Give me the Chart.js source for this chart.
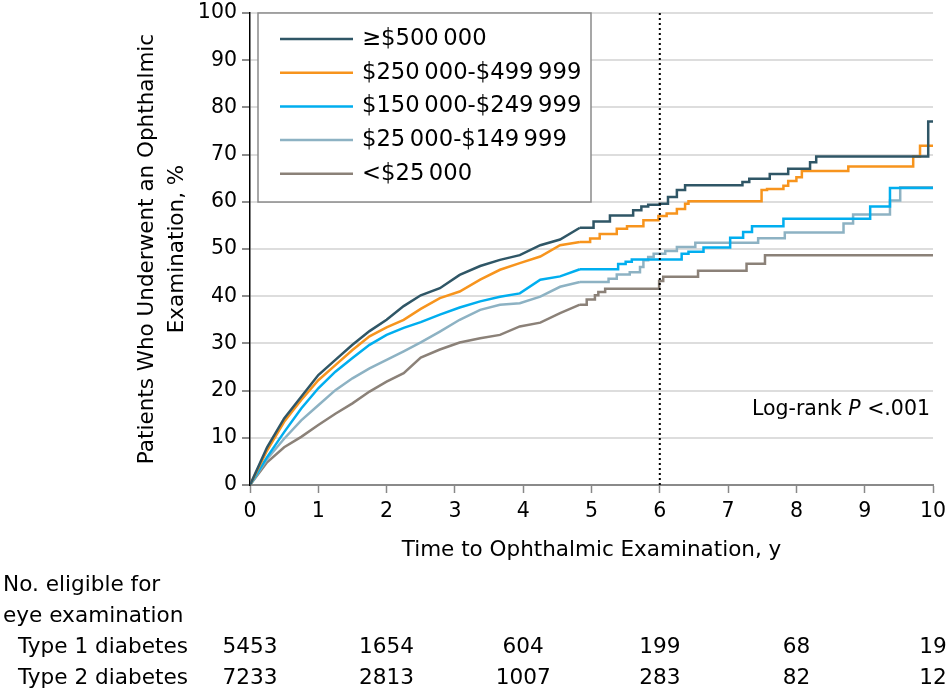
<!DOCTYPE html>
<html><head><meta charset="utf-8">
<script src="https://cdn.jsdelivr.net/npm/chart.js@4"></script>
<style>html,body{margin:0;padding:0;background:#fff;overflow:hidden}</style>
</head><body>
<canvas id="c" width="948" height="691"></canvas>
<script>
// ---------- DATA ----------
const groupLabels = ["≥$500\u2009000", "$250\u2009000-$499\u2009999", "$150\u2009000-$249\u2009999", "$25\u2009000-$149\u2009999", "<$25\u2009000"];

// dense early part of the curves (years, %)
const earlyTimes = [0, 0.25, 0.5, 0.75, 1, 1.25, 1.5, 1.75, 2, 2.25, 2.5, 2.78, 3.07, 3.37, 3.66, 3.95, 4.25, 4.54, 4.83];
const earlyG500 = [0, 8.0, 14.1, 18.7, 23.3, 26.5, 29.7, 32.6, 35.0, 37.9, 40.2, 41.7, 44.5, 46.4, 47.7, 48.7, 50.8, 52.0, 54.5];
const earlyG250 = [0, 7.3, 13.4, 18.0, 22.2, 25.4, 28.6, 31.5, 33.4, 35.0, 37.3, 39.6, 41.0, 43.5, 45.6, 47.0, 48.4, 50.8, 51.5];
const earlyG150 = [0, 5.9, 11.2, 16.2, 20.5, 24.0, 26.9, 29.7, 31.8, 33.3, 34.5, 36.1, 37.6, 38.9, 39.9, 40.6, 43.5, 44.2, 45.7];
const earlyG25  = [0, 5.5, 9.8, 13.7, 16.9, 20.1, 22.6, 24.7, 26.5, 28.3, 30.2, 32.5, 35.0, 37.1, 38.2, 38.5, 39.9, 42.0, 43.0];
const earlyLt25 = [0, 4.8, 8.0, 10.2, 12.7, 15.1, 17.3, 19.8, 21.9, 23.7, 27.0, 28.7, 30.2, 31.1, 31.8, 33.6, 34.4, 36.4, 38.2];

// stepped late part (time of step, value after step)
const lateTimesG500 = [5.03, 5.27, 5.61, 5.73, 5.83, 6.0, 6.12, 6.25, 6.37, 7.21, 7.31, 7.61, 7.88, 8.2, 8.29, 9.93, 10];
const lateValsG500  = [55.8, 57.1, 58.2, 59.0, 59.4, 59.6, 61.0, 62.5, 63.5, 64.2, 64.9, 65.9, 67.0, 68.4, 69.6, 77.0, 77.0];
const lateTimesG250 = [4.98, 5.12, 5.37, 5.52, 5.76, 5.98, 6.10, 6.25, 6.37, 6.42, 7.49, 7.57, 7.81, 7.88, 8.0, 8.08, 8.76, 9.71, 9.81, 10];
const lateValsG250  = [52.2, 53.2, 54.3, 54.8, 56.1, 57.0, 57.5, 58.5, 59.6, 60.1, 62.5, 62.7, 63.4, 64.4, 65.2, 66.5, 67.5, 69.6, 71.9, 71.9];
const lateTimesG150 = [5.39, 5.5, 5.59, 6.32, 6.42, 6.64, 7.03, 7.22, 7.35, 7.81, 9.08, 9.37, 10];
const lateValsG150  = [46.8, 47.3, 47.8, 49.0, 49.4, 50.3, 52.4, 53.6, 54.8, 56.4, 59.0, 62.9, 62.9];
const lateTimesG25  = [5.25, 5.37, 5.56, 5.71, 5.76, 5.83, 5.91, 6.08, 6.25, 6.52, 7.44, 7.83, 8.69, 8.83, 9.37, 9.52, 10];
const lateValsG25   = [43.7, 44.6, 45.1, 46.2, 47.6, 48.3, 49.0, 49.6, 50.4, 51.3, 52.3, 53.5, 55.4, 57.3, 60.3, 63.1, 63.1];
const lateTimesLt25 = [4.93, 5.05, 5.1, 5.2, 5.99, 6.05, 6.56, 7.27, 7.54, 10];
const lateValsLt25  = [39.3, 40.2, 40.9, 41.6, 43.2, 44.1, 45.4, 46.9, 48.7, 48.7];

const xTicks = [0, 1, 2, 3, 4, 5, 6, 7, 8, 9, 10];
const yTicks = [0, 10, 20, 30, 40, 50, 60, 70, 80, 90, 100];
const cutoffYear = 6;
const logRankText = ["Log-rank ", "P", " <.001"];

const riskTitle = ["No. eligible for", "eye examination"];
const riskRowLabels = ["Type 1 diabetes", "Type 2 diabetes"];
const riskTimes = [0, 2, 4, 6, 8, 10];
const riskType1 = [5453, 1654, 604, 199, 68, 19];
const riskType2 = [7233, 2813, 1007, 283, 82, 12];

// ---------- STYLE ----------
const colors = ["#2f5666", "#f7941d", "#00aeef", "#8db2c3", "#8b8178"];
const FONT = "'DejaVu Sans', sans-serif";

const earlyAll = [earlyG500, earlyG250, earlyG150, earlyG25, earlyLt25];
const lateT = [lateTimesG500, lateTimesG250, lateTimesG150, lateTimesG25, lateTimesLt25];
const lateV = [lateValsG500, lateValsG250, lateValsG150, lateValsG25, lateValsLt25];

const datasets = [];
groupLabels.forEach((lab, i) => {
  const early = earlyTimes.map((t, j) => ({x: t, y: earlyAll[i][j]}));
  const late = [early[early.length - 1]].concat(lateT[i].map((t, j) => ({x: t, y: lateV[i][j]})));
  datasets.push({label: lab, data: early, borderColor: colors[i], borderWidth: 2.5, pointRadius: 0, stepped: false, tension: 0, order: i});
  datasets.push({label: lab + " (steps)", data: late, borderColor: colors[i], borderWidth: 2.5, pointRadius: 0, stepped: true, order: i});
});

const extras = {
  id: 'extras',
  afterDatasetsDraw(chart) {
    const ctx = chart.ctx, xs = chart.scales.x, ys = chart.scales.y, ca = chart.chartArea;
    ctx.save();
    // dotted cutoff line
    const xc = xs.getPixelForValue(cutoffYear);
    ctx.strokeStyle = '#000'; ctx.lineWidth = 2; ctx.setLineDash([2, 3]);
    ctx.beginPath(); ctx.moveTo(xc, ca.top); ctx.lineTo(xc, ca.bottom); ctx.stroke();
    ctx.setLineDash([]);
    // legend box
    const bx = 258, by = ca.top, bw = 333, bh = 189;
    ctx.fillStyle = '#fff'; ctx.fillRect(bx, by, bw, bh);
    ctx.strokeStyle = '#8a8a8a'; ctx.lineWidth = 1.5; ctx.strokeRect(bx, by, bw, bh);
    ctx.font = "22.7px " + FONT; ctx.textBaseline = 'middle'; ctx.textAlign = 'left';
    groupLabels.forEach((lab, i) => {
      const yy = by + 26 + i * 33.7;
      ctx.strokeStyle = colors[i]; ctx.lineWidth = 2.5;
      ctx.beginPath(); ctx.moveTo(280, yy); ctx.lineTo(353, yy); ctx.stroke();
      ctx.fillStyle = '#000'; ctx.fillText(lab, 362, yy);
    });
    // log-rank
    const lf = "20.5px " + FONT, lfi = "italic 20.5px " + FONT;
    ctx.font = lf;
    const w0 = ctx.measureText(logRankText[0]).width;
    ctx.font = lfi;
    const w1 = ctx.measureText(logRankText[1]).width;
    ctx.font = lf;
    const w2 = ctx.measureText(logRankText[2]).width;
    let lx = 930 - (w0 + w1 + w2);
    const ly = ys.getPixelForValue(16);
    ctx.fillText(logRankText[0], lx, ly); lx += w0;
    ctx.font = lfi; ctx.fillText(logRankText[1], lx, ly); lx += w1;
    ctx.font = lf; ctx.fillText(logRankText[2], lx, ly);
    // risk table
    ctx.font = "21.6px " + FONT; ctx.fillStyle = '#000';
    ctx.textAlign = 'left';
    ctx.fillText(riskTitle[0], 3, 585);
    ctx.fillText(riskTitle[1], 3, 616);
    ctx.fillText(riskRowLabels[0], 18, 647);
    ctx.fillText(riskRowLabels[1], 18, 678);
    ctx.textAlign = 'center';
    riskTimes.forEach((t, j) => {
      const px = xs.getPixelForValue(t);
      ctx.fillText(String(riskType1[j]), px, 647);
      ctx.fillText(String(riskType2[j]), px, 678);
    });
    ctx.restore();
  }
};

new Chart(document.getElementById('c'), {
  type: 'line',
  data: {datasets},
  options: {
    responsive: false, animation: false, devicePixelRatio: 1,
    layout: {padding: {left: 0, right: 15, top: 13, bottom: 126}},
    plugins: {legend: {display: false}, tooltip: {enabled: false}},
    scales: {
      x: {
        type: 'linear', min: 0, max: 10,
        afterBuildTicks(s) { s.ticks = xTicks.map(v => ({value: v})); },
        afterFit(s) { s.height = 80; s.paddingLeft = 0; s.paddingRight = 0; },
        ticks: {color: '#000', font: {size: 20.5, family: FONT}, padding: 6, maxRotation: 0},
        grid: {drawOnChartArea: false, drawTicks: true, tickLength: 8, tickColor: '#888', tickWidth: 1.5},
        border: {color: '#8a8a8a', width: 2},
        title: {display: true, text: "Time to Ophthalmic Examination, y", color: '#000', font: {size: 21.5, family: FONT}, padding: {top: 0, bottom: 2}}
      },
      y: {
        min: 0, max: 100,
        afterBuildTicks(s) { s.ticks = yTicks.map(v => ({value: v})); },
        afterFit(s) { s.width = 250; s.paddingTop = 0; s.paddingBottom = 0; },
        ticks: {color: '#000', font: {size: 20.5, family: FONT}, padding: 5},
        grid: {color: '#dddddd', lineWidth: 2, drawTicks: true, tickLength: 8, tickColor: '#666', tickWidth: 1.5},
        border: {color: '#000', width: 1.5},
        title: {display: true, text: ["Patients Who Underwent an Ophthalmic", "Examination, %"], color: '#000', font: {size: 21.5, family: FONT, lineHeight: 1.4}, padding: {top: 132, bottom: 0}}
      }
    }
  },
  plugins: [extras]
});
</script>
</body></html>
